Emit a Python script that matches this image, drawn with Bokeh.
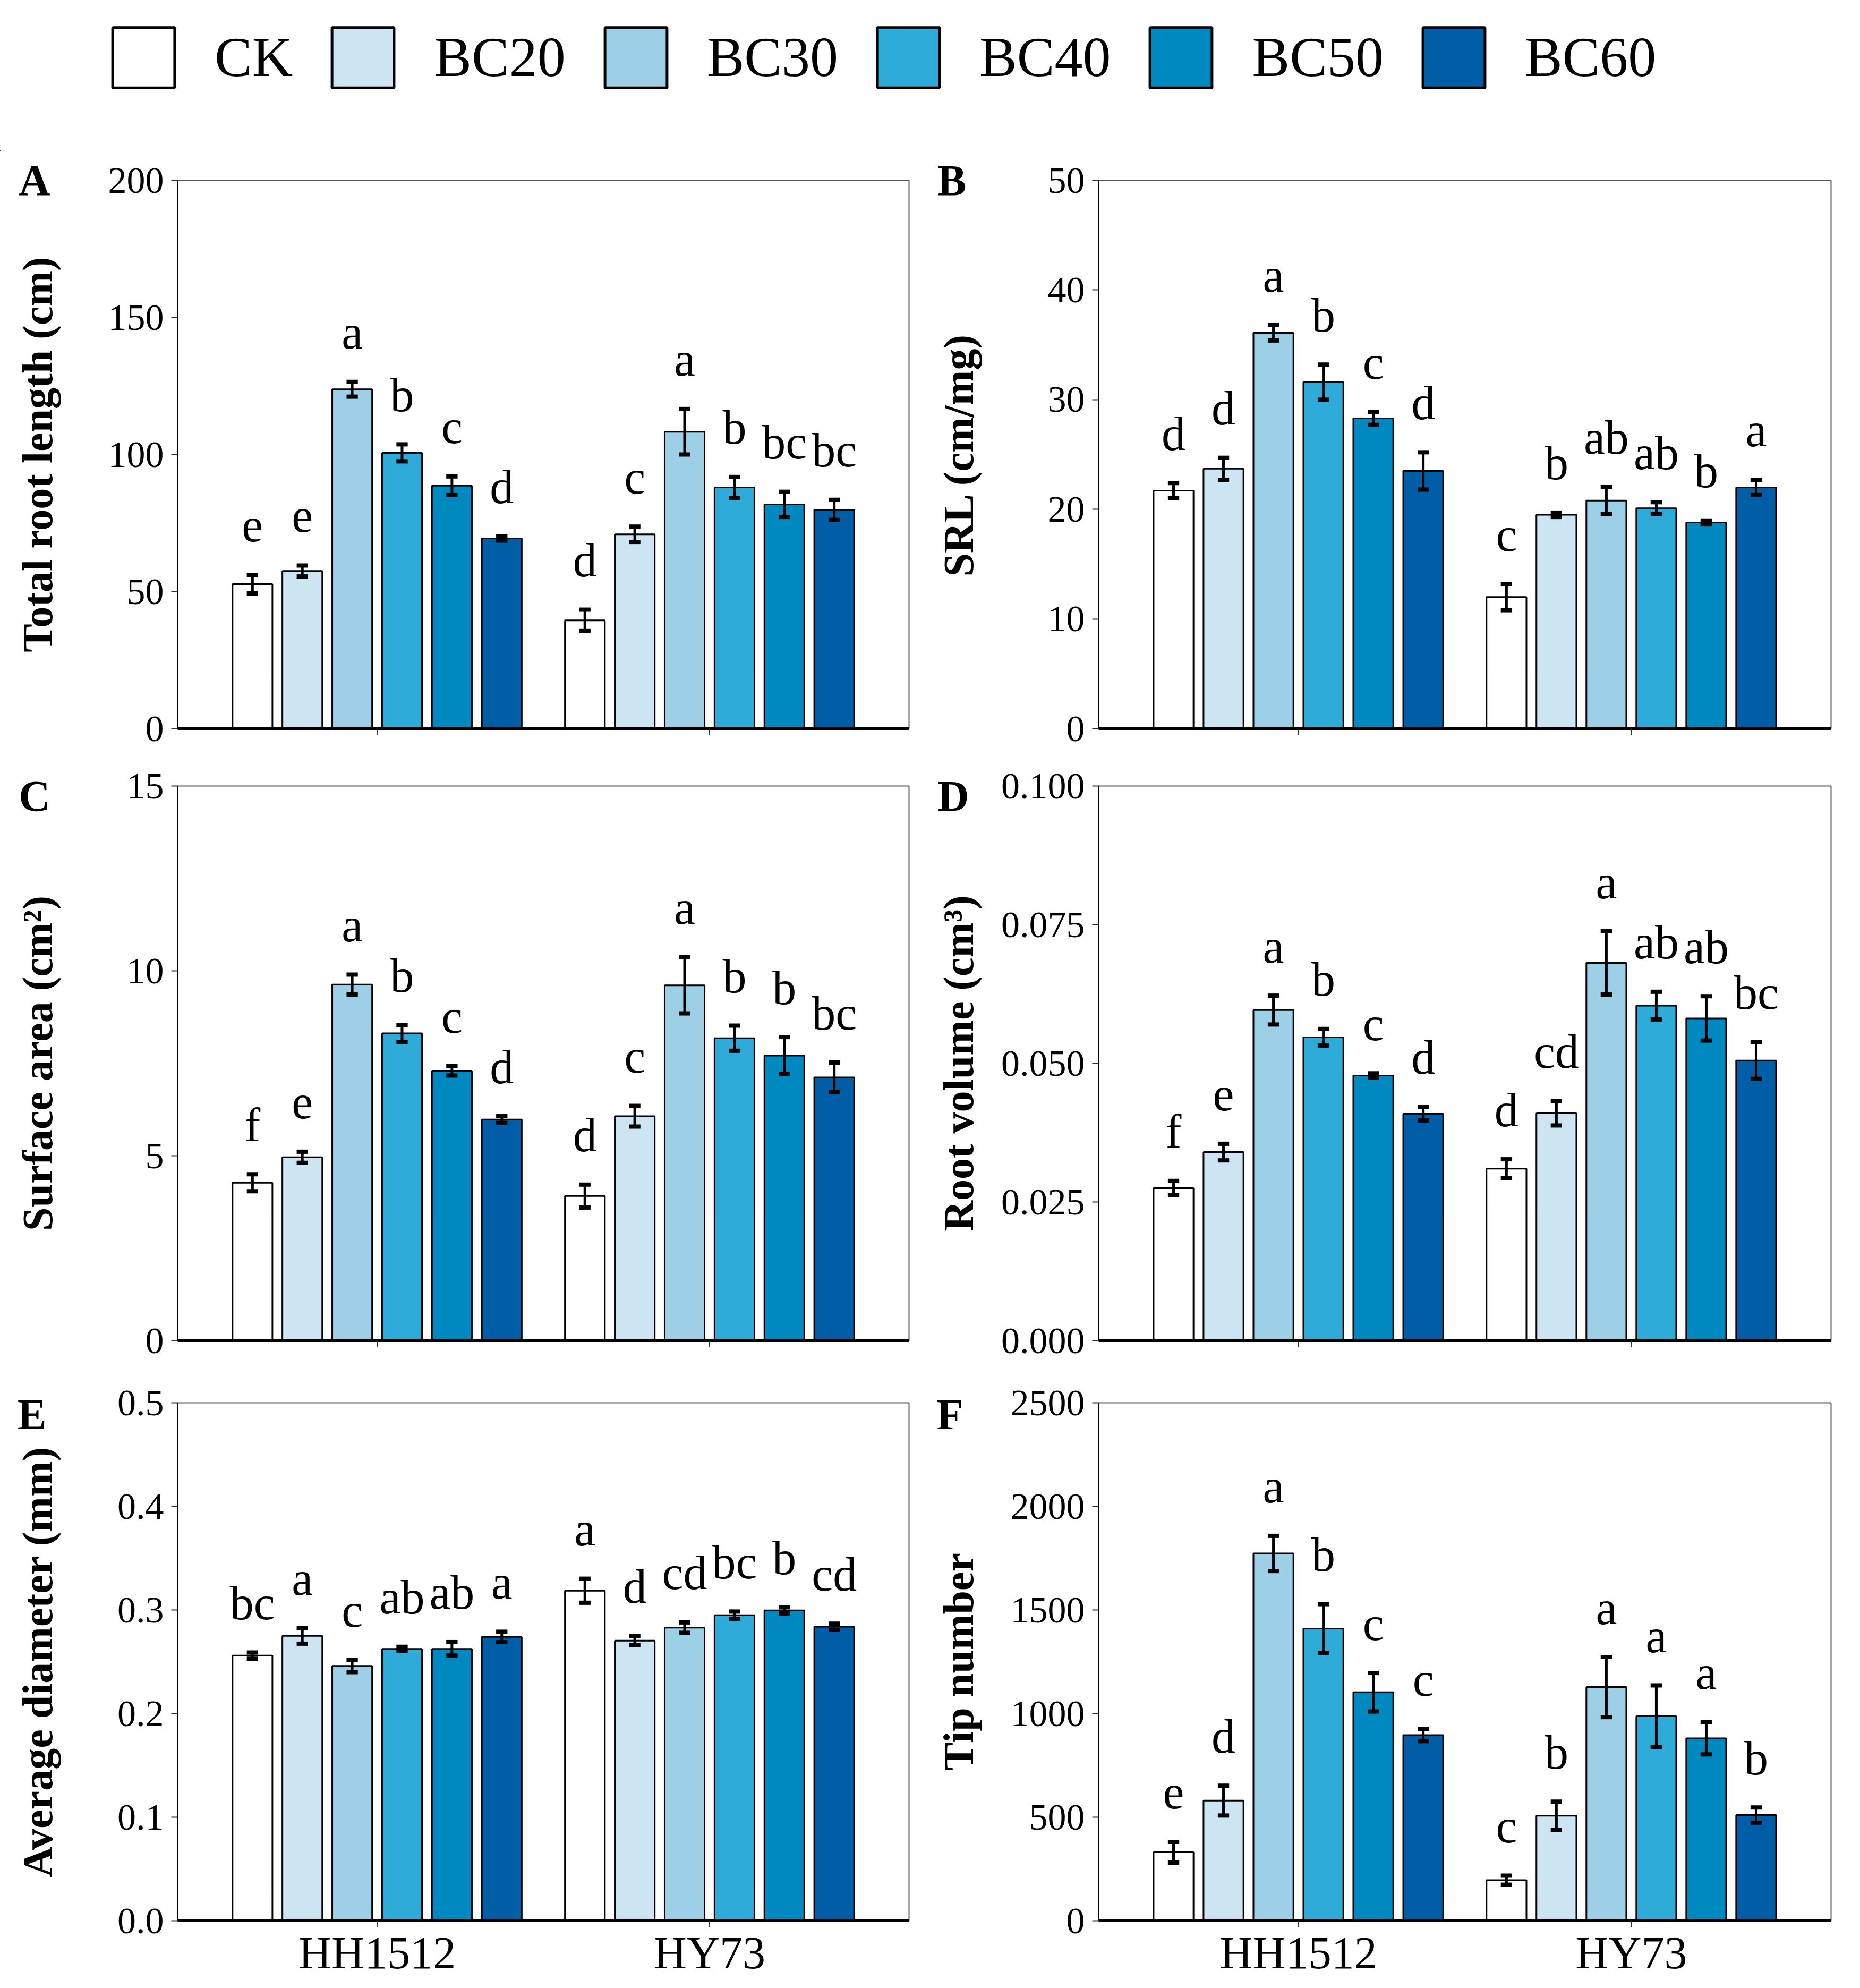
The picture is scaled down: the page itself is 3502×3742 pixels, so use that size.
from bokeh.plotting import figure
from bokeh.layouts import column, row
from bokeh.models import (Range1d, FixedTicker, Legend, LegendItem, NumeralTickFormatter,
                          LinearAxis, CustomJSTickFormatter)
from bokeh.core.properties import value
from bokeh.embed import file_html
from bokeh.resources import INLINE

# ---------------- data ----------------
treatments = ["CK", "BC20", "BC30", "BC40", "BC50", "BC60"]
cultivars = ["HH1512", "HY73"]
colors = ["#ffffff", "#cde4f3", "#9dcfe6", "#2eabd8", "#0088c1", "#005ea7"]

# A  Total root length (cm)   order: HH1512 CK..BC60, HY73 CK..BC60
trl_mean = [52.7, 57.5, 123.8, 100.6, 88.6, 69.4, 39.5, 70.9, 108.3, 88.0, 81.8, 79.8]
trl_se = [3.4, 2.0, 2.7, 3.1, 3.4, 0.8, 3.9, 2.8, 8.3, 3.8, 4.6, 3.7]
trl_letters = ["e", "e", "a", "b", "c", "d", "d", "c", "a", "b", "bc", "bc"]

# B  SRL (cm/mg)
srl_mean = [21.7, 23.7, 36.1, 31.6, 28.3, 23.5, 12.0, 19.5, 20.8, 20.1, 18.8, 22.0]
srl_se = [0.7, 1.0, 0.7, 1.6, 0.6, 1.7, 1.2, 0.2, 1.25, 0.55, 0.18, 0.7]
srl_letters = ["d", "d", "a", "b", "c", "d", "c", "b", "ab", "ab", "b", "a"]

# C  Surface area (cm2)
sa_mean = [4.27, 4.96, 9.63, 8.31, 7.30, 5.98, 3.91, 6.07, 9.61, 8.18, 7.71, 7.12]
sa_se = [0.23, 0.15, 0.27, 0.23, 0.13, 0.09, 0.31, 0.28, 0.76, 0.34, 0.50, 0.40]
sa_letters = ["f", "e", "a", "b", "c", "d", "d", "c", "a", "b", "b", "bc"]

# D  Root volume (cm3)
rv_mean = [0.0275, 0.0340, 0.0596, 0.0547, 0.0478, 0.0409, 0.0310, 0.0410, 0.0681, 0.0604, 0.0581, 0.0505]
rv_se = [0.0013, 0.0015, 0.0026, 0.0015, 0.0004, 0.0012, 0.0017, 0.0022, 0.0057, 0.0025, 0.0040, 0.0033]
rv_letters = ["f", "e", "a", "b", "c", "d", "d", "cd", "a", "ab", "ab", "bc"]

# E  Average diameter (mm)
ad_mean = [0.256, 0.275, 0.246, 0.2625, 0.2625, 0.274, 0.3186, 0.2704, 0.283, 0.295, 0.2996, 0.2838]
ad_se = [0.003, 0.0075, 0.006, 0.002, 0.0065, 0.005, 0.0116, 0.0043, 0.005, 0.0035, 0.003, 0.003]
ad_letters = ["bc", "a", "c", "ab", "ab", "a", "a", "d", "cd", "bc", "b", "cd"]

# F  Tip number
tn_mean = [331, 580, 1773, 1410, 1103, 896, 196, 507, 1128, 987, 881, 510]
tn_se = [50, 72, 85, 118, 93, 29, 22, 68, 145, 149, 78, 37]
tn_letters = ["e", "d", "a", "b", "c", "c", "c", "b", "a", "a", "a", "b"]

yticks_A = [0, 50, 100, 150, 200]
yticks_B = [0, 10, 20, 30, 40, 50]
yticks_C = [0, 5, 10, 15]
yticks_D = [0.0, 0.025, 0.05, 0.075, 0.1]
yticks_E = [0.0, 0.1, 0.2, 0.3, 0.4, 0.5]
yticks_F = [0, 500, 1000, 1500, 2000, 2500]

FONT = "Liberation Serif"
PITCH = 0.15
BAR_W = 0.12
CAP_W = 0.034


def make_panel(mean, se, letters, ylabel, yticks, fmt, tag, width, height,
               mbl, mbr, mbt, mbb, title_standoff, tag_standoff, tag_drop, show_x):
    ymax = yticks[-1]
    p = figure(width=width, height=height, x_range=Range1d(0.4, 2.6),
               y_range=Range1d(0, ymax), output_backend="svg",
               toolbar_location=None, min_border_left=mbl, min_border_right=mbr,
               min_border_top=mbt, min_border_bottom=mbb)
    p.background_fill_color = "white"
    p.border_fill_color = "white"
    p.xgrid.visible = False
    p.ygrid.visible = False
    p.outline_line_color = "#555555"
    p.outline_line_width = 2

    xs, tops, lo, hi, cols = [], [], [], [], []
    for g in range(len(cultivars)):
        for i in range(len(treatments)):
            k = g * len(treatments) + i
            xs.append(g + 1 + (i - 2.5) * PITCH)
            tops.append(mean[k])
            lo.append(mean[k] - se[k])
            hi.append(mean[k] + se[k])
            cols.append(colors[i])

    p.vbar(x=xs, top=tops, bottom=0, width=BAR_W, fill_color=cols,
           line_color="black", line_width=3)
    p.segment(x0=xs, y0=lo, x1=xs, y1=hi, line_color="black", line_width=5)
    p.segment(x0=[x - CAP_W / 2 for x in xs], y0=lo, x1=[x + CAP_W / 2 for x in xs], y1=lo,
              line_color="black", line_width=8, line_cap="butt")
    p.segment(x0=[x - CAP_W / 2 for x in xs], y0=hi, x1=[x + CAP_W / 2 for x in xs], y1=hi,
              line_color="black", line_width=8, line_cap="butt")
    p.text(x=xs, y=hi, text=letters, text_align="center", text_baseline="alphabetic",
           y_offset=-93, text_font=value(FONT), text_font_size="90px", text_color="black")

    # y axis
    ya = p.yaxis[0]
    ya.ticker = FixedTicker(ticks=yticks)
    ya.formatter = NumeralTickFormatter(format=fmt)
    ya.axis_label = ylabel
    ya.axis_label_text_font = FONT
    ya.axis_label_text_font_style = "bold"
    ya.axis_label_text_font_size = "80px"
    ya.axis_label_text_color = "black"
    ya.axis_label_standoff = title_standoff
    ya.major_label_text_font = FONT
    ya.major_label_text_font_size = "70px"
    ya.major_label_text_color = "black"
    ya.major_label_standoff = 14
    ya.axis_line_color = "black"
    ya.axis_line_width = 3
    ya.major_tick_line_color = "#333333"
    ya.major_tick_line_width = 2
    ya.major_tick_out = 12
    ya.major_tick_in = 0
    ya.minor_tick_line_color = None

    # panel tag: one bold label on an otherwise bare outer axis, near the top of the frame
    frame_h = height - mbt - mbb
    tag_pos = ymax - tag_drop * ymax / frame_h
    tag_axis = LinearAxis(ticker=FixedTicker(ticks=[tag_pos]),
                          formatter=CustomJSTickFormatter(code="return %r;" % tag),
                          axis_line_color=None, major_tick_line_color=None,
                          minor_tick_line_color=None, major_tick_out=0, major_tick_in=0,
                          major_label_standoff=tag_standoff,
                          major_label_text_font=FONT, major_label_text_font_style="bold",
                          major_label_text_font_size="82px", major_label_text_color="black")
    p.add_layout(tag_axis, "left")

    # x axis
    xa = p.xaxis[0]
    if show_x:
        xa.ticker = FixedTicker(ticks=[1, 2])
        xa.major_label_overrides = {1: cultivars[0], 2: cultivars[1]}
        xa.major_label_text_font = FONT
        xa.major_label_text_font_size = "86px"
        xa.major_label_text_color = "black"
        xa.major_label_standoff = 0
        xa.major_tick_line_color = "#333333"
        xa.major_tick_line_width = 2
        xa.major_tick_out = 12
        xa.major_tick_in = 0
        xa.minor_tick_line_color = None
    else:
        # unlabeled tick marks at the cultivar positions
        xa.ticker = FixedTicker(ticks=[], minor_ticks=[1, 2])
        xa.minor_tick_line_color = "#333333"
        xa.minor_tick_line_width = 2
        xa.minor_tick_out = 12
        xa.minor_tick_in = 0
    xa.axis_line_color = "black"
    xa.axis_line_width = 5
    return p


C1 = dict(width=1737, mbl=334, mbr=26)
C2 = dict(width=1749, mbl=331, mbr=39)
R1 = dict(height=1144, mbt=55, mbb=57)
R2 = dict(height=1154, mbt=51, mbb=59)
R3 = dict(height=1144, mbt=58, mbb=107)

pA = make_panel(trl_mean, trl_se, trl_letters, "Total root length (cm)", yticks_A, "0", "A",
                title_standoff=86, tag_standoff=-71, tag_drop=0, show_x=False, **C1, **R1)
pB = make_panel(srl_mean, srl_se, srl_letters, "SRL (cm/mg)", yticks_B, "0", "B",
                title_standoff=121, tag_standoff=-62, tag_drop=0, show_x=False, **C2, **R1)
pC = make_panel(sa_mean, sa_se, sa_letters, "Surface area (cm²)", yticks_C, "0", "C",
                title_standoff=121, tag_standoff=-71, tag_drop=19, show_x=False, **C1, **R2)
pD = make_panel(rv_mean, rv_se, rv_letters, "Root volume (cm³)", yticks_D, "0.000", "D",
                title_standoff=33, tag_standoff=-67, tag_drop=19, show_x=False, **C2, **R2)
pE = make_panel(ad_mean, ad_se, ad_letters, "Average diameter (mm)", yticks_E, "0.0", "E",
                title_standoff=103, tag_standoff=-64, tag_drop=22, show_x=True, **C1, **R3)
pF = make_panel(tn_mean, tn_se, tn_letters, "Tip number", yticks_F, "0", "F",
                title_standoff=51, tag_standoff=-56, tag_drop=22, show_x=True, **C2, **R3)

# ---------------- legend strip ----------------
lf = figure(width=3486, height=284, x_range=Range1d(0, 1), y_range=Range1d(0, 1),
            output_backend="svg", toolbar_location=None,
            x_axis_location=None, y_axis_location=None, min_border=0)
lf.grid.visible = False
lf.outline_line_color = None
lf.background_fill_color = "white"
lf.border_fill_color = "white"
items = []
for t, c in zip(treatments, colors):
    r = lf.vbar(x=[-5], top=[0], width=0.1, fill_color=c, line_color="black", line_width=5)
    items.append(LegendItem(label=t, renderers=[r]))
leg = Legend(items=items, orientation="horizontal", location=(197, 105),
             glyph_width=146, glyph_height=142, label_standoff=61, spacing=59,
             padding=0, margin=0, border_line_color=None, background_fill_alpha=0,
             label_text_font=FONT, label_text_font_size="106px",
             label_text_baseline="middle", label_text_color="black")
lf.add_layout(leg)

layout = column(lf, row(pA, pB), row(pC, pD), row(pE, pF))
open("out.html", "w").write(file_html(layout, INLINE))
